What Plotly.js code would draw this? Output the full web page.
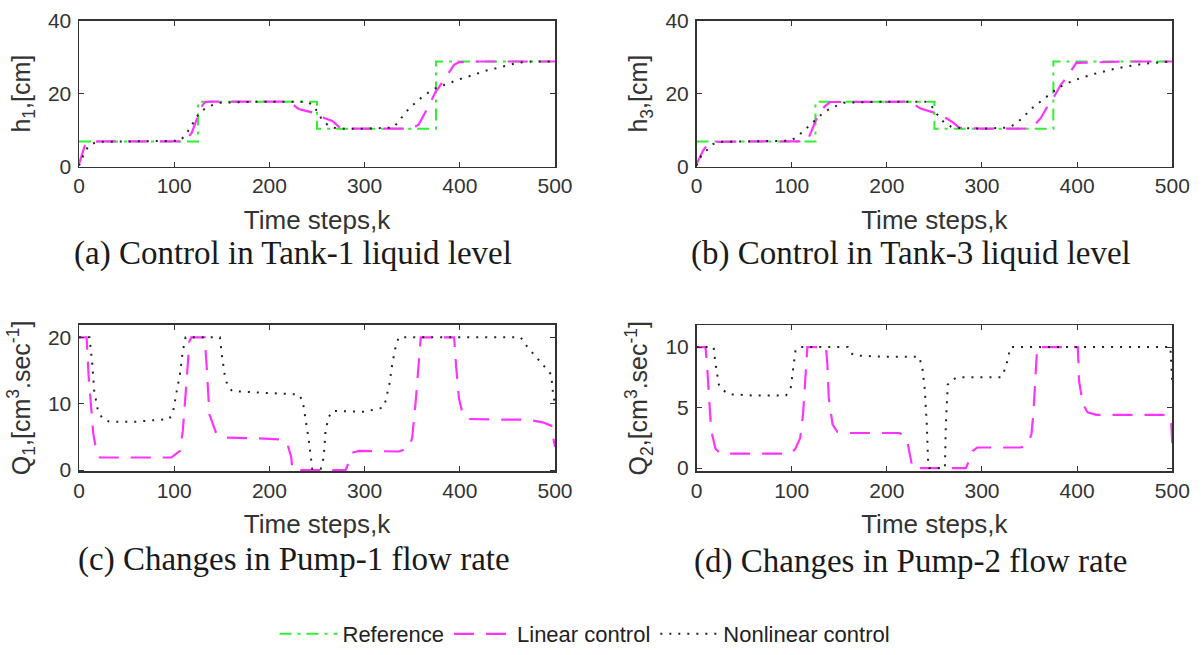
<!DOCTYPE html>
<html><head><meta charset="utf-8">
<script src="https://cdn.plot.ly/plotly-3.0.1.min.js"></script>
<style>html,body{margin:0;padding:0;background:#fff}#chart{width:1201px;height:655px}</style>
</head><body><div id="chart"></div>
<script>
// ---------- data ----------
const refK  = [0,125,125,250,250,375,375,500];
const refH1 = [6.9,6.9,17.8,17.8,10.4,10.4,28.8,28.8];
const refH3 = [6.9,6.9,17.8,17.8,10.4,10.4,28.8,28.8];

const linK_a = [0,3,6,10,20,60,111,118.5,122,125.5,129,132.5,140,180,222,225,229,233,246,252,259,266,274,285,320,350,357,362,369,374,380,385,394,399,420,460,500];
const linH1  = [0.7,3,5.7,6.8,6.9,6.9,6.9,9.3,12,14.3,16.6,17.7,17.8,17.8,17.8,17,16.1,15.6,14.8,13.9,13.1,12.5,10.7,10.4,10.4,10.4,11.6,13.9,17.5,20.2,22.5,24.3,27.9,28.6,28.8,28.8,28.8];
const nlK_a  = [0,4.5,10,17,22,60,106,111,117,122,127,132.5,139.5,148,190,239,245,250,255,262,271,300,330.5,337.5,346,355,364,373,380,388,397,408,418,429,439,450,460,475,500];
const nlH1   = [0.3,3,5.7,6.6,6.8,6.9,7.1,8.4,10.7,13,14.8,15.9,16.8,17.5,17.8,17.8,17,15.2,13,11.2,10.4,10.4,10.7,13,15.7,17.9,19.8,21.3,22,22.9,23.7,24.6,25.5,26.4,27,27.7,28.4,28.8,28.8];

const linK_b = [0,3.5,7,10.5,16,60,116,121,125,130,135,140.5,180,225,230,235.5,249.5,256.5,263.5,269,276,300,348,355,362,369,376,383,390,399,450,500];
const linH3  = [0.7,2.5,4.4,5.7,6.8,6.9,6.9,9.8,12.5,14.8,16.6,17.7,17.8,17.8,16.8,15.9,14.8,14,13.1,12.2,10.7,10.4,10.4,11.3,13.4,16.6,19.3,22.5,24.8,28.4,28.8,28.8];
const nlK_b  = [0,5,10.5,17.5,24.5,60,98,105,112.5,119.5,126.5,133.5,140.5,147.5,154.5,200,240.7,246,253,260,269,300,327,334,343,351,360,369,380,390,404,418,436,453,471,488,500];
const nlH3   = [0.3,3,4.4,6.2,6.8,6.9,7.1,8,9.8,11.6,13.4,14.8,15.9,16.8,17.5,17.8,17.8,17,14.3,12.1,10.7,10.4,10.7,11.5,13.4,15.7,17.5,19.3,21.6,22.9,24.3,25.4,26.6,27.5,28.2,28.6,28.8];

const linK_c = [0,8,10,15,18,22,32,60,97,106,109,113,116,118,132,134,137,144,155,185,214,219,223,224,227,250,280,284,287,294,336,347,350,354,357,359,375,394,396,399,403,410,450,471,487,496,498,500];
const linQ1  = [20,20,14.4,5.5,3,1.9,1.9,1.9,1.9,2.9,5.9,13.4,19.4,20,20,15.9,8.4,5.6,4.9,4.8,4.6,3.9,1.9,0.15,0,0,0,1.4,2.6,2.9,2.8,3.4,4.9,10.9,15.9,20,20,20,15.9,10.9,8.4,7.7,7.6,7.6,7.2,6.7,5,3.5];
const nlK_c  = [0,11,14,16,20,25,32,60,95,99,102,106,109,112,130,148,150,153,156,161,200,231,235,238,241,244,245,254,257,259,262,266,272,300,319,322,326,329,333,336,400,464,469,475,483,490,496,498,500];
const nlQ1   = [20,20,15.9,11.9,8.9,7.7,7.3,7.3,7.7,8.9,11.4,14.4,17.9,20,20,20,17.4,14.4,12.7,11.9,11.6,11.4,10.4,7.9,4.9,1.4,0.2,0.2,1.9,5.9,7.9,8.9,8.9,8.8,9.4,10.4,12.9,15.9,18.9,20,20,20,18.9,17.9,16.4,15.4,14.4,11.4,10];

const linK_d = [0,9.5,11,13,15.4,20,25,60,99,104,109,112,115,116.5,136,137.5,139,143,148,159,213,218,222,225,227,250,283,287,290,295,341,348,352,354,356,358,380,400.7,402,406,411,420,460,495,499,500];
const linQ2  = [10,10,8.6,5.8,3.1,1.6,1.2,1.2,1.2,1.6,2.5,4.5,8,10,10,8.6,5.8,3.6,3,2.9,2.9,2.7,2,0.6,0,0,0,0.7,1.4,1.7,1.7,2,2.8,4.5,6.9,10,10,10,7.2,5.3,4.6,4.4,4.4,4.4,3.6,2];
const nlK_d  = [0,18,20,23.5,27,34,60,94,99,102,104,108,130,159,162,167,200,234,237.5,240,242,243.5,244.5,261,262,264,269,274,300,320,325,329,330,400,498,500];
const nlQ2   = [10,10,8.6,6.9,6.5,6.1,6,6,6.6,8.6,9.7,10,10,10,9.5,9.3,9.2,9.2,8.2,6.4,3.6,0.3,0,0,3.5,6.9,7.3,7.5,7.5,7.5,8.3,9.7,10,10,10,7];

const seriesNames = ['Reference','Linear control','Nonlinear control'];
const captions = ['(a) Control in Tank-1 liquid level','(b) Control in Tank-3 liquid level',
                  '(c) Changes in Pump-1 flow rate','(d) Changes in Pump-2 flow rate'];
const yTitles = ['h<sub>1</sub>,[cm]','h<sub>3</sub>,[cm]',
                 'Q<sub>1</sub>,[cm<sup>3</sup>.sec<sup>-1</sup>]','Q<sub>2</sub>,[cm<sup>3</sup>.sec<sup>-1</sup>]'];
const xTitle = 'Time steps,k';

// ---------- styling ----------
const W = 1201, H = 655;
const fx = p => p / W, fy = p => 1 - p / H;
const GREEN = '#33ee33', PINK = '#ff33ff', BLACK = '#222222';
const refLine = {color: GREEN, width: 2, dash: '12px,6px,3px,6px'};
const linLine = {color: PINK, width: 2.2, dash: '20px,12px'};
const nlLine  = {color: BLACK, width: 2, dash: '2px,7px'};
const SANS = 'Liberation Sans, Arial, sans-serif';
const SERIF = 'Liberation Serif, Times New Roman, serif';

function tr(x, y, name, line, ax, show) {
  return {x, y, name, type: 'scatter', mode: 'lines', line, xaxis: 'x' + ax, yaxis: 'y' + ax,
          showlegend: show, hoverinfo: 'skip'};
}
const data = [
  tr(refK, refH1, seriesNames[0], refLine, '', true),
  tr(linK_a, linH1, seriesNames[1], linLine, '', true),
  tr(nlK_a, nlH1, seriesNames[2], nlLine, '', true),
  tr(refK, refH3, seriesNames[0], refLine, '2', false),
  tr(linK_b, linH3, seriesNames[1], linLine, '2', false),
  tr(nlK_b, nlH3, seriesNames[2], nlLine, '2', false),
  tr(linK_c, linQ1, seriesNames[1], linLine, '3', false),
  tr(nlK_c, nlQ1, seriesNames[2], nlLine, '3', false),
  tr(linK_d, linQ2, seriesNames[1], linLine, '4', false),
  tr(nlK_d, nlQ2, seriesNames[2], nlLine, '4', false)
];

const common = {showline: true, mirror: 'ticks', linecolor: '#333', linewidth: 1.5,
  ticks: 'inside', ticklen: 5, tickcolor: '#333', showgrid: false, zeroline: false,
  tickfont: {family: SANS, size: 21, color: '#333'}, fixedrange: true};
function xax(l, r, anchor) {
  return Object.assign({}, common, {domain: [fx(l), fx(r)], range: [0, 500], dtick: 100, tick0: 0,
    anchor, title: {text: xTitle, font: {family: SANS, size: 26, color: '#333'}, standoff: 14}});
}
function yax(t, b, range, dtick, title, anchor) {
  return Object.assign({}, common, {domain: [fy(b), fy(t)], range, dtick, tick0: 0, anchor,
    ticklabelstandoff: 2,
    title: {text: title, font: {family: SANS, size: 25, color: '#333'}, standoff: 10}});
}
const layout = {
  width: W, height: H, margin: {l: 0, r: 0, t: 0, b: 0},
  paper_bgcolor: '#fff', plot_bgcolor: '#fff',
  xaxis:  xax(79, 555, 'y'),
  yaxis:  yax(20.7, 167.7, [0, 40], 20, yTitles[0], 'x'),
  xaxis2: xax(696.5, 1172.3, 'y2'),
  yaxis2: yax(20.7, 167.7, [0, 40], 20, yTitles[1], 'x2'),
  xaxis3: xax(79, 555, 'y3'),
  yaxis3: yax(326.7, 474, [-0.15, 21.9], 10, yTitles[2], 'x3'),
  xaxis4: xax(696.5, 1172.3, 'y4'),
  yaxis4: yax(327.3, 474, [-0.25, 11.8], 5, yTitles[3], 'x4'),
  showlegend: true,
  legend: {orientation: 'h', x: fx(585), xanchor: 'center', y: fy(638), yanchor: 'middle',
    font: {family: SANS, size: 22, color: '#222'}, itemwidth: 58, bgcolor: 'rgba(0,0,0,0)'},
  annotations: [
    {text: captions[0], x: fx(292.5), y: fy(255)},
    {text: captions[1], x: fx(911), y: fy(255)},
    {text: captions[2], x: fx(293.5), y: fy(563)},
    {text: captions[3], x: fx(911), y: fy(565)}
  ].map(a => Object.assign(a, {xref: 'paper', yref: 'paper', showarrow: false,
      xanchor: 'center', yanchor: 'middle', font: {family: SERIF, size: 33, color: '#1a1a1a'}}))
};
Plotly.newPlot('chart', data, layout, {displayModeBar: false, staticPlot: true});
</script></body></html>
